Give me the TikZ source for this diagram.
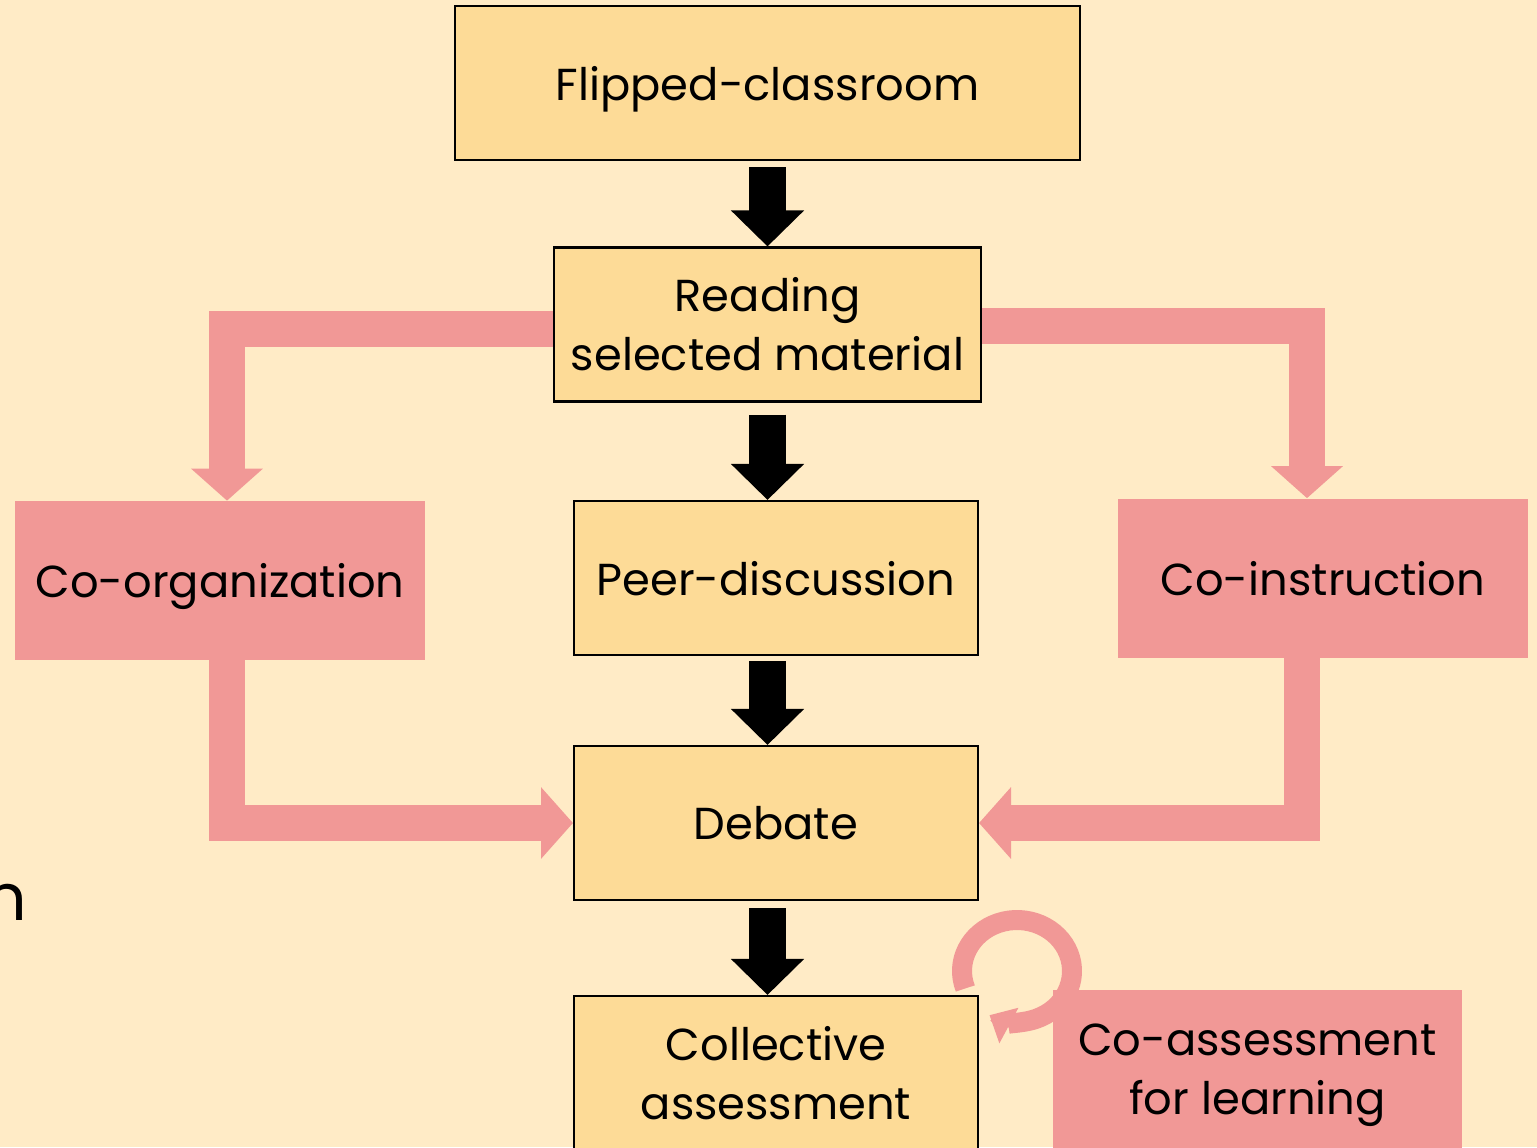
\documentclass[tikz,border=0pt]{standalone}
\usepackage{fontspec}
\setmainfont{Poppins}
\usetikzlibrary{arrows.meta}

\definecolor{cream}{HTML}{FFEBC6}
\definecolor{sand}{HTML}{FDDB97}
\definecolor{rose}{HTML}{F19896}

\begin{document}
\begin{tikzpicture}[x=0.02cm,y=-0.02cm,
  flowbox/.style={draw=black,line width=1.2pt,fill=sand,minimum width=#1,
    minimum height=3.08cm,inner sep=0pt,align=center,
    font=\fontsize{25.5}{33.5}\selectfont},
  rolebox/.style={fill=rose,minimum width=8.2cm,minimum height=3.18cm,
    inner sep=0pt,align=center,font=\fontsize{25.5}{33.5}\selectfont},
  oneline/.style={text depth=0pt},
  blkarrow/.style={line width=0.74cm,-{Triangle[width=1.42cm,length=0.72cm]}},
  rosearrow/.style={draw=rose,line width=0.72cm,line join=miter,
    -{Triangle[width=1.4cm,length=0.64cm]}}]

%% page and background
\useasboundingbox (0,0) rectangle (1537,1147);
\fill[cream] (0,0) rectangle (1537,1147);

%% left-over letter at the edge
\node[anchor=base east,inner sep=0pt,font=\fontsize{37}{37}\selectfont] (cut) at (27,920) {n};

%% main steps
\node[flowbox=12.5cm,oneline] (flip)   at (767.5,83)    {Flipped-classroom};
\node[flowbox=8.54cm]         (read)   at (767.5,324.5) {Reading\\selected material};
\node[flowbox=8.08cm,oneline] (peer)   at (776,578)     {Peer-discussion};
\node[flowbox=8.08cm,oneline] (debate) at (776,823)     {Debate};
\node[flowbox=8.08cm]         (coll)   at (776,1073)    {Collective\\assessment};

%% shared roles
\node[rolebox,oneline] (coorg)    at (220,580.5)   {Co-organization};
\node[rolebox,oneline] (coinst)   at (1323,578)    {Co-instruction};
\node[rolebox,minimum height=3.4cm] (coassess) at (1257.5,1075) {Co-assessment\\for learning};

%% black arrows
\draw[blkarrow,shorten <=0.12cm] (flip.south) -- (read.north);
\draw[blkarrow,shorten <=0.24cm] (read.south) -- (read.south |- peer.north);
\draw[blkarrow,shorten <=0.1cm] (read.south |- peer.south) -- (read.south |- debate.north);
\draw[blkarrow,shorten <=0.14cm] (read.south |- debate.south) -- (read.south |- coll.north);

%% rose arrows
\draw[rosearrow] ([yshift=-0.08cm]read.west) -| ([xshift=0.14cm]coorg.north);
\draw[rosearrow] ([yshift=-0.03cm]read.east) -| ([xshift=-0.32cm]coinst.north);
\draw[rosearrow] ([xshift=0.14cm]coorg.south) |- (debate.west);
\draw[rosearrow] ([xshift=-0.42cm]coinst.south) |- (debate.east);

%% loop beside co-assessment
\draw[draw=rose,line width=0.4cm,-{Triangle[width=0.78cm,length=0.44cm]}]
  (1017,971) ++(-200:55 and 51) arc[start angle=-200,end angle=120,x radius=55,y radius=51];

\end{tikzpicture}
\end{document}
